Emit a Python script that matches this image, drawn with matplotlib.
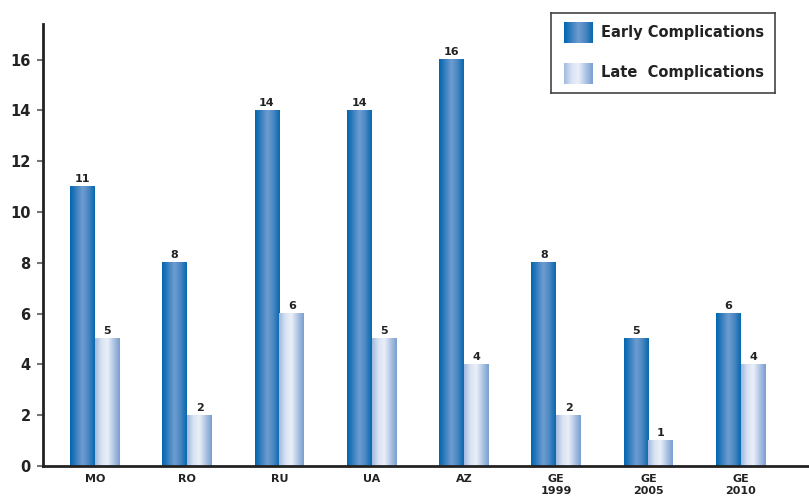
import numpy as np
import matplotlib
matplotlib.use('Agg')
import matplotlib.pyplot as plt
from matplotlib.colors import LinearSegmentedColormap

# data
countries = ['MO', 'RO', 'RU', 'UA', 'AZ', 'GE\n1999', 'GE\n2005', 'GE\n2010']
early = [11, 8, 14, 14, 16, 8, 5, 6]
late = [5, 2, 6, 5, 4, 2, 1, 4]

# horizontal gradients that give the bars a rounded look
early_cmap = LinearSegmentedColormap.from_list(
    'early', ['#0066ae', '#3a80c0', '#6f9dd0', '#4a86c2', '#0868ae'])
late_cmap = LinearSegmentedColormap.from_list(
    'late', ['#a0badf', '#d8e2f2', '#ebf0f9', '#b0c5e4', '#7a9fd0'])
grad = np.linspace(0, 1, 64).reshape(1, -1)

W, H = 809, 496
fig = plt.figure(figsize=(W / 100, H / 100), dpi=100)
ax = fig.add_axes([43 / W, 30 / H, (W - 43) / W, (466 - 24) / H])

bw = 0.27
x = np.arange(len(countries))


def grad_bar(axis, x0, h, cmap):
    axis.imshow(grad, cmap=cmap, extent=[x0, x0 + bw, 0, h],
                aspect='auto', interpolation='bicubic', zorder=2)


for i in range(len(countries)):
    grad_bar(ax, x[i] - bw, early[i], early_cmap)
    grad_bar(ax, x[i], late[i], late_cmap)
    ax.text(x[i] - bw / 2, early[i] + 0.1, str(early[i]), ha='center', va='bottom',
            fontsize=8, fontweight='bold', color='#222222')
    ax.text(x[i] + bw / 2, late[i] + 0.1, str(late[i]), ha='center', va='bottom',
            fontsize=8, fontweight='bold', color='#222222')

ax.set_xlim(-0.563, 7.74)
ax.set_ylim(0, 17.4)
ax.set_xticks(x)
ax.set_xticklabels(countries, fontsize=8, fontweight='bold', color='#222222',
                   linespacing=1.15)
ax.set_yticks(range(0, 17, 2))
ax.set_yticklabels([str(v) for v in range(0, 17, 2)], fontsize=10.5,
                   fontweight='bold', color='#222222')
ax.tick_params(axis='x', length=0, pad=6)
ax.tick_params(axis='y', length=4.5, width=1.5, color='#777777', pad=4.5)
for s in ['top', 'right']:
    ax.spines[s].set_visible(False)
ax.spines['left'].set_linewidth(2)
ax.spines['bottom'].set_linewidth(2)
ax.spines['left'].set_color('#222222')
ax.spines['bottom'].set_color('#222222')

# legend box drawn by hand so the swatches keep the gradient
lax = fig.add_axes([551 / W, (H - 93) / H, (775 - 551) / W, 80 / H])
lax.set_xlim(0, 224)
lax.set_ylim(80, 0)
lax.set_xticks([])
lax.set_yticks([])
for s in lax.spines.values():
    s.set_linewidth(1.2)
    s.set_color('#444444')
lax.imshow(grad, cmap=early_cmap, extent=[13, 42, 30, 9], aspect='auto',
           interpolation='bicubic')
lax.imshow(grad, cmap=late_cmap, extent=[13, 42, 71, 50], aspect='auto',
           interpolation='bicubic')
lax.text(50, 20, 'Early Complications', va='center', fontsize=10.5,
         fontweight='bold', color='#222222')
lax.text(50, 60, 'Late  Complications', va='center', fontsize=10.5,
         fontweight='bold', color='#222222')

plt.savefig('out.png', dpi=100)
